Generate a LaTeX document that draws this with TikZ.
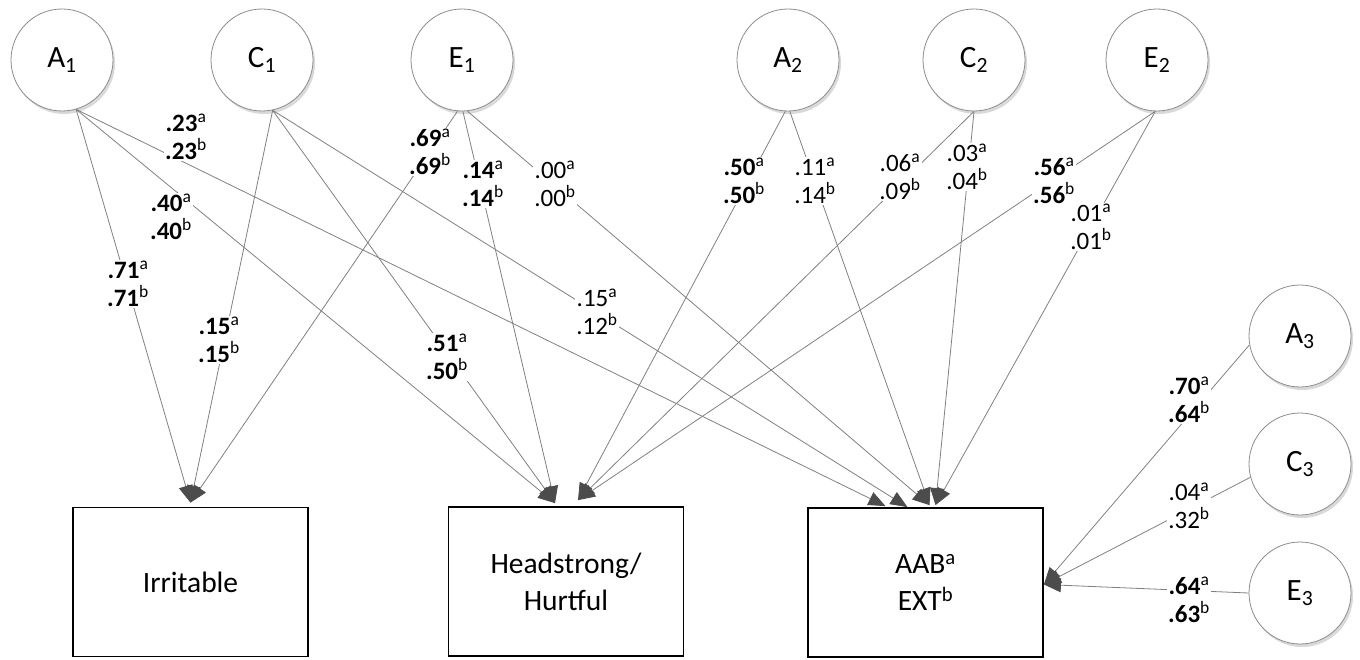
\documentclass[tikz,border=0pt]{standalone}
\usepackage{fontspec}
\setmainfont{Carlito}
\usetikzlibrary{arrows.meta,shadows}
\newcommand\pbold[2]{\textbf{#1}\textsuperscript{a}\\\textbf{#2}\textsuperscript{b}}
\newcommand\pnorm[2]{#1\textsuperscript{a}\\#2\textsuperscript{b}}
\begin{document}
\begin{tikzpicture}[x=1pt,y=-1pt,
  lat/.style={circle, draw=black!45, line width=0.8pt, minimum size=102pt, inner sep=0pt, fill=white,
    font=\fontsize{31}{34}\selectfont,
    drop shadow={shadow xshift=2pt, shadow yshift=-3pt, opacity=0.25, fill=black!60}},
  obs/.style={draw=black, line width=1.8pt, minimum width=235pt, minimum height=149pt, align=center,
    font=\fontsize{29.5}{37}\selectfont},
  conn/.style={draw=black!50, line width=0.8pt, -{Triangle[length=17pt,width=14pt,color=black!70]}},
  lbl/.style={fill=white, inner sep=1pt, align=center, font=\fontsize{25}{28}\selectfont}
]
\useasboundingbox (0,0) rectangle (1360,660);

% latent variables
\node[lat] (A1) at (62,60) {A\textsubscript{1}};
\node[lat] (C1) at (262,60) {C\textsubscript{1}};
\node[lat] (E1) at (462,60) {E\textsubscript{1}};
\node[lat] (A2) at (788,60) {A\textsubscript{2}};
\node[lat] (C2) at (974,60) {C\textsubscript{2}};
\node[lat] (E2) at (1157,60) {E\textsubscript{2}};
\node[lat] (A3) at (1300,336) {A\textsubscript{3}};
\node[lat] (C3) at (1300,464) {C\textsubscript{3}};
\node[lat] (E3) at (1300,593) {E\textsubscript{3}};

% observed variables
\node[obs] (irr) at (190.5,582) {Irritable};
\node[obs] (head) at (566,581.5) {Headstrong/\\Hurtful};
\node[obs] (aab) at (925.5,582.5) {AAB\textsuperscript{a}\\EXT\textsuperscript{b}};

% end points on the boxes
\coordinate (irrT) at ([yshift=4pt]irr.north);
\coordinate (headL) at ([xshift=-11pt,yshift=3pt]head.north);
\coordinate (headR) at ([xshift=12pt,yshift=6pt]head.north);
\coordinate (aab1) at ([xshift=-40pt,yshift=1pt]aab.north);
\coordinate (aab2) at ([xshift=-18pt]aab.north);
\coordinate (aab3) at ([xshift=4pt,yshift=2pt]aab.north);
\coordinate (aab4) at ([xshift=10pt,yshift=2pt]aab.north);
\coordinate (aabR) at ([yshift=-2pt]aab.east);

% paths
\draw[conn] (A1.-74) -- (irrT);
\draw[conn] (A1.-74) -- (headL);
\draw[conn] (A1.-74) -- (aab1);
\draw[conn] (C1.-78) -- (irrT);
\draw[conn] (C1.-78) -- (headL);
\draw[conn] (C1.-78) -- (aab2);
\draw[conn] (E1.-95) -- (irrT);
\draw[conn] (E1.-89) -- (headL);
\draw[conn] (E1.-84) -- (aab3);
\draw[conn] (A2.-93) -- (headR);
\draw[conn] (A2.-88) -- (aab3);
\draw[conn] (C2.-90) -- (headR);
\draw[conn] (C2.-90) -- (aab4);
\draw[conn] (E2.-92) -- (headR);
\draw[conn] (E2.-92) -- (aab4);
\draw[conn] (A3.190) -- (aabR);
\draw[conn] (C3.195) -- (aabR);
\draw[conn] (E3.west) -- (aabR);

% path coefficients
\node[lbl] (l1) at (128,284) {\pbold{.71}{.71}};
\node[lbl] (l2) at (171,217) {\pbold{.40}{.40}};
\node[lbl] (l3) at (186,137) {\pbold{.23}{.23}};
\node[lbl] (l4) at (219,340) {\pbold{.15}{.15}};
\node[lbl] (l5) at (447,357) {\pbold{.51}{.50}};
\node[lbl] (l6) at (597,312) {\pnorm{.15}{.12}};
\node[lbl] (l7) at (430,152) {\pbold{.69}{.69}};
\node[lbl] (l8) at (483,184) {\pbold{.14}{.14}};
\node[lbl] (l9) at (555,184) {\pnorm{.00}{.00}};
\node[lbl] (l10) at (744,181) {\pbold{.50}{.50}};
\node[lbl] (l11) at (815,181) {\pnorm{.11}{.14}};
\node[lbl] (l12) at (900,177) {\pnorm{.06}{.09}};
\node[lbl] (l13) at (967,167) {\pnorm{.03}{.04}};
\node[lbl] (l14) at (1054,181) {\pbold{.56}{.56}};
\node[lbl] (l15) at (1091,227) {\pnorm{.01}{.01}};
\node[lbl] (l16) at (1189,400) {\pbold{.70}{.64}};
\node[lbl] (l17) at (1189,506) {\pnorm{.04}{.32}};
\node[lbl] (l18) at (1189,600) {\pbold{.64}{.63}};
\end{tikzpicture}
\end{document}
